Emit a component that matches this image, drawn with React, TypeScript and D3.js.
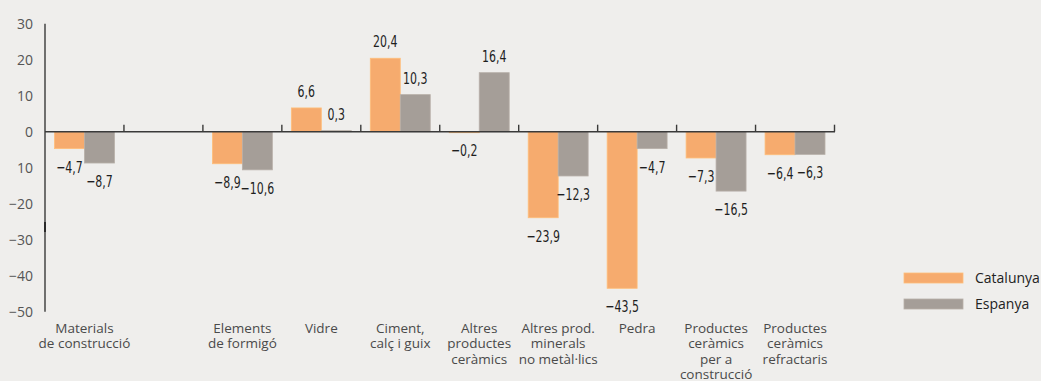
import React from "react";
import * as d3 from "d3";

const categories: string[][] = [
  ["Materials", "de construcció"],
  [],
  ["Elements", "de formigó"],
  ["Vidre"],
  ["Ciment,", "calç i guix"],
  ["Altres", "productes", "ceràmics"],
  ["Altres prod.", "minerals", "no metàl·lics"],
  ["Pedra"],
  ["Productes", "ceràmics", "per a", "construcció"],
  ["Productes", "ceràmics", "refractaris"],
];
const catalunya: (number | null)[] = [-4.7, null, -8.9, 6.6, 20.4, -0.2, -23.9, -43.5, -7.3, -6.4];
const espanya: (number | null)[] = [-8.7, null, -10.6, 0.3, 10.3, 16.4, -12.3, -4.7, -16.5, -6.3];
const seriesNames = ["Catalunya", "Espanya"];
const seriesColors = ["#f6ab6e", "#a59e98"];
const yTicks = [30, 20, 10, 0, -10, -20, -30, -40, -50];
const yTickLabels = ["30", "20", "10", "0", "10", "−20", "−30", "−40", "−50"];

const W = 1041;
const H = 381;

export default function App() {
  const x = d3.scaleBand<number>().domain(d3.range(categories.length)).range([45, 834.5]).paddingInner(0).paddingOuter(0);
  const inner = d3.scaleBand<number>().domain([0, 1]).range([9.5, x.bandwidth() - 9.5]).padding(0);
  const y = d3.scaleLinear().domain([-50, 30]).range([311.7, 23.7]);
  const fmt = (v: number) => (v < 0 ? "−" : "") + d3.format(".1f")(Math.abs(v)).replace(".", ",");
  const series = [catalunya, espanya];
  const numFont = "'DejaVu Sans Condensed', 'DejaVu Sans', sans-serif";
  const catFont = "'Open Sans', sans-serif";

  return (
    <svg width={W} height={H} style={{ position: "absolute", left: 0, top: 0, background: "#efeeec" }}>
      <rect x={0} y={0} width={W} height={H} fill="#efeeec" />
      {/* bars */}
      {series.map((vals, si) =>
        vals.map((v, i) => {
          if (v === null) return null;
          const bx = (x(i) as number) + (inner(si) as number);
          const y0 = y(0);
          const y1 = y(v);
          return (
            <rect
              key={`b${si}-${i}`}
              x={bx}
              y={Math.min(y0, y1)}
              width={inner.bandwidth()}
              height={Math.max(Math.abs(y1 - y0), 1)}
              fill={seriesColors[si]}
              stroke={d3.color(seriesColors[si])!.brighter(0.3).toString()}
              strokeWidth={0.8}
            />
          );
        })
      )}
      {/* value labels */}
      {series.map((vals, si) =>
        vals.map((v, i) => {
          if (v === null) return null;
          const cx = (x(i) as number) + (inner(si) as number) + inner.bandwidth() / 2;
          const ty = v >= 0 ? y(v) - 11 : y(v) + 24;
          return (
            <text
              key={`l${si}-${i}`}
              transform={`translate(${cx},${ty}) scale(0.74,1)`}
              textAnchor="middle"
              fontFamily={numFont}
              fontSize={16.5}
              fill="#1e1e1e"
            >
              {fmt(v)}
            </text>
          );
        })
      )}
      {/* x axis line */}
      <line x1={45} x2={835} y1={y(0)} y2={y(0)} stroke="#3a3a3a" strokeWidth={1.4} />
      {d3.range(1, categories.length + 1).map((i) => {
        const tx = i < categories.length ? (x(i) as number) : x.range()[1];
        return <line key={`t${i}`} x1={tx} x2={tx} y1={y(0)} y2={y(0) - 7} stroke="#3a3a3a" strokeWidth={1.4} />;
      })}
      {/* y axis */}
      <line x1={45} x2={45} y1={y(30)} y2={y(-50)} stroke="#3a3a3a" strokeWidth={1.4} />
      <line x1={45} x2={45} y1={222} y2={232} stroke="#2a2a2a" strokeWidth={2} />
      {yTicks.map((t, i) => (
        <text key={`y${i}`} x={33} y={y(t)} dy="0.35em" textAnchor="end" fontFamily={catFont} fontSize={14} fill="#555">
          {yTickLabels[i]}
        </text>
      ))}
      {/* category labels */}
      {categories.map((lines, i) => (
        <text key={`c${i}`} textAnchor="middle" fontFamily={catFont} fontSize={13.5} fill="#4a4a4a">
          {lines.map((ln, k) => (
            <tspan key={k} x={(x(i) as number) + x.bandwidth() / 2} y={332.5 + k * 15.5}>
              {ln}
            </tspan>
          ))}
        </text>
      ))}
      {/* legend */}
      {seriesNames.map((n, si) => (
        <g key={`lg${si}`} transform={`translate(904, ${273 + si * 26})`}>
          <rect x={0} y={0} width={59} height={10} fill={seriesColors[si]} stroke={d3.color(seriesColors[si])!.brighter(0.3).toString()} strokeWidth={0.8} />
          <text x={71} y={5} dy="0.35em" fontFamily={catFont} fontSize={14} fill="#222">
            {n}
          </text>
        </g>
      ))}
    </svg>
  );
}
